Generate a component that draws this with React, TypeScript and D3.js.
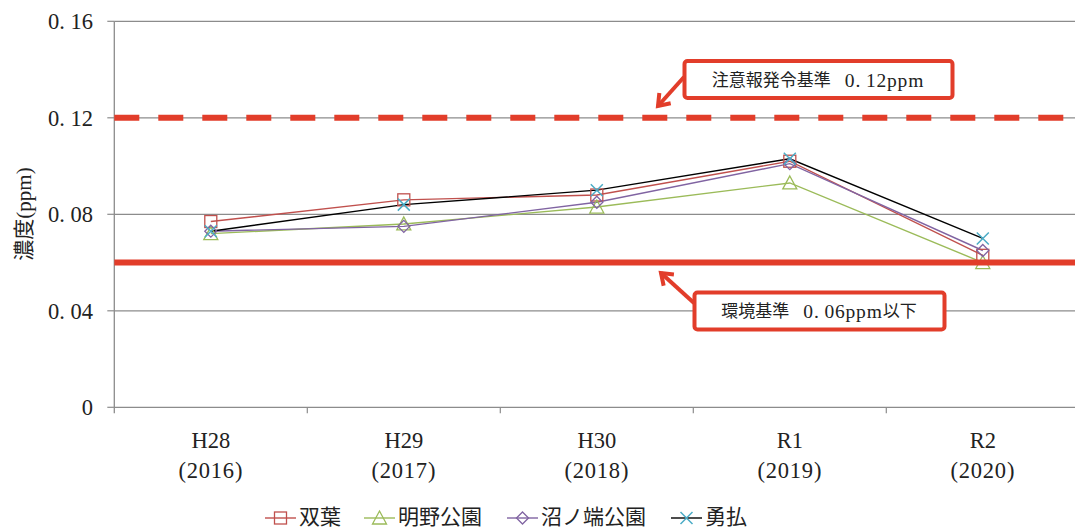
import React from "react";
import * as d3 from "d3";

const categories = ["H28", "H29", "H30", "R1", "R2"];
const years = ["(2016)", "(2017)", "(2018)", "(2019)", "(2020)"];
const seriesNames = ["双葉", "明野公園", "沼ノ端公園", "勇払"];
const futaba = [0.077, 0.086, 0.088, 0.102, 0.063];
const akeno = [0.072, 0.076, 0.083, 0.093, 0.06];
const numanohata = [0.073, 0.075, 0.085, 0.101, 0.065];
const yufutsu = [0.073, 0.084, 0.09, 0.103, 0.07];
const yTicks = [0, 0.04, 0.08, 0.12, 0.16];
const alertLevel = 0.12;
const envStandard = 0.06;
const alertLabel = ["注意報発令基準", "0.12ppm", ""];
const envLabel = ["環境基準", "0.06ppm", "以下"];
const yLabel = "濃度(ppm)";

const W = 1075;
const H = 528;
const RED = "#E23D2A";
const FONT = "'Liberation Serif', 'Noto Sans CJK JP', serif";

const seriesDefs = [
  { name: seriesNames[0], values: futaba, line: "#C0504D", marker: "#C0504D", shape: "square" },
  { name: seriesNames[1], values: akeno, line: "#9BBB59", marker: "#9BBB59", shape: "triangle" },
  { name: seriesNames[2], values: numanohata, line: "#8064A2", marker: "#8064A2", shape: "diamond" },
  { name: seriesNames[3], values: yufutsu, line: "#000000", marker: "#4BACC6", shape: "x" },
];

function Marker({ shape, x, y, color }: { shape: string; x: number; y: number; color: string }) {
  const s = 6;
  if (shape === "square")
    return <rect x={x - s} y={y - s} width={2 * s} height={2 * s} fill="none" stroke={color} strokeWidth={1.3} />;
  if (shape === "triangle")
    return (
      <path
        d={`M${x},${y - s - 1}L${x + s + 1},${y + s}L${x - s - 1},${y + s}Z`}
        fill="none"
        stroke={color}
        strokeWidth={1.3}
      />
    );
  if (shape === "diamond")
    return (
      <path d={`M${x},${y - s}L${x + s},${y}L${x},${y + s}L${x - s},${y}Z`} fill="none" stroke={color} strokeWidth={1.3} />
    );
  return (
    <path
      d={`M${x - s},${y - s}L${x + s},${y + s}M${x + s},${y - s}L${x - s},${y + s}`}
      fill="none"
      stroke={color}
      strokeWidth={1.5}
    />
  );
}

function Arrow({ x1, y1, x2, y2 }: { x1: number; y1: number; x2: number; y2: number }) {
  const ang = Math.atan2(y2 - y1, x2 - x1);
  const L = 13;
  const a = Math.PI / 5;
  const p1 = [x2 - L * Math.cos(ang - a), y2 - L * Math.sin(ang - a)];
  const p2 = [x2 - L * Math.cos(ang + a), y2 - L * Math.sin(ang + a)];
  return (
    <g stroke={RED} strokeWidth={4} fill="none" strokeLinecap="butt" strokeLinejoin="miter">
      <line x1={x1} y1={y1} x2={x2} y2={y2} />
      <path d={`M${p1[0]},${p1[1]}L${x2},${y2}L${p2[0]},${p2[1]}`} />
    </g>
  );
}

function NumText({ s, size }: { s: string; size: number }) {
  const i = s.indexOf(".");
  if (i < 0) return <tspan>{s}</tspan>;
  return (
    <>
      <tspan>{s.slice(0, i + 1)}</tspan>
      <tspan dx={size * 0.25}>{s.slice(i + 1)}</tspan>
    </>
  );
}

export default function App() {
  const left = 114.3;
  const right = 1079.3;
  const x = d3.scaleBand<string>().domain(categories).range([left, right]).padding(0);
  const y = d3.scaleLinear().domain([0, 0.16]).range([407.3, 21.3]);
  const cx = (c: string) => (x(c) as number) + x.bandwidth() / 2;
  const lineGen = d3
    .line<number>()
    .x((_, i) => cx(categories[i]))
    .y((v) => y(v));

  const legendItems = [
    { lx: 265, tx: 299 },
    { lx: 364, tx: 398 },
    { lx: 507, tx: 541 },
    { lx: 671, tx: 705 },
  ];

  const label = (parts: string[], x0: number, y0: number) => (
    <text x={x0} y={y0} textAnchor="middle" dominantBaseline="central" fontSize={17} fill="#222">
      <tspan>{parts[0]}</tspan>
      <tspan dx={14} fontSize={19.5} letterSpacing={0.8}>
        <NumText s={parts[1]} size={19.5} />
      </tspan>
      {parts[2] ? <tspan>{parts[2]}</tspan> : null}
    </text>
  );

  return (
    <svg
      width={W}
      height={H}
      style={{ position: "absolute", left: 0, top: 0, background: "#fff" }}
      fontFamily={FONT}
    >
      <rect x={0} y={0} width={W} height={H} fill="#fff" />
      {yTicks.slice(1).map((t) => (
        <line key={t} x1={left} x2={right} y1={y(t)} y2={y(t)} stroke="#8c8c8c" strokeWidth={1.2} />
      ))}
      <line x1={left} x2={left} y1={y(0.16)} y2={y(0) + 6} stroke="#8c8c8c" strokeWidth={1.3} />
      <line x1={left} x2={right} y1={y(0)} y2={y(0)} stroke="#8c8c8c" strokeWidth={1.3} />
      {yTicks.map((t) => (
        <line key={"yt" + t} x1={left - 7} x2={left} y1={y(t)} y2={y(t)} stroke="#8c8c8c" strokeWidth={1.2} />
      ))}
      {categories.map((c) => (
        <line
          key={"xt" + c}
          x1={(x(c) as number) + x.bandwidth()}
          x2={(x(c) as number) + x.bandwidth()}
          y1={y(0)}
          y2={y(0) + 6}
          stroke="#8c8c8c"
          strokeWidth={1.2}
        />
      ))}
      {yTicks.map((t) => (
        <text key={"yl" + t} x={93} y={y(t)} textAnchor="end" dominantBaseline="central" fontSize={22.5} fill="#222">
          <NumText s={t === 0 ? "0" : d3.format(".2f")(t)} size={22.5} />
        </text>
      ))}
      {categories.map((c, i) => (
        <g key={"xl" + c}>
          <text x={cx(c)} y={440} textAnchor="middle" dominantBaseline="central" fontSize={22.5} fill="#222">
            {c}
          </text>
          <text
            x={cx(c)}
            y={470}
            textAnchor="middle"
            dominantBaseline="central"
            fontSize={22.5}
            fill="#222"
            letterSpacing={0.8}
          >
            {years[i]}
          </text>
        </g>
      ))}
      <text
        transform={`translate(24,214) rotate(-90)`}
        textAnchor="middle"
        dominantBaseline="central"
        fontSize={21}
        fill="#222"
      >
        {yLabel}
      </text>
      {seriesDefs.map((s) => (
        <path key={"l" + s.name} d={lineGen(s.values) || ""} fill="none" stroke={s.line} strokeWidth={1.4} />
      ))}
      {seriesDefs.map((s) => (
        <g key={"m" + s.name}>
          {s.values.map((v, i) => (
            <Marker key={i} shape={s.shape} x={cx(categories[i])} y={y(v)} color={s.marker} />
          ))}
        </g>
      ))}
      <line
        x1={left}
        x2={right}
        y1={y(alertLevel)}
        y2={y(alertLevel)}
        stroke={RED}
        strokeWidth={6}
        strokeDasharray="25 19"
      />
      <line x1={left} x2={right} y1={y(envStandard)} y2={y(envStandard)} stroke={RED} strokeWidth={6} />
      <rect x={684.5} y={61} width={268} height={37} rx={3} fill="#fff" stroke={RED} strokeWidth={4} />
      {label(alertLabel, 818, 80)}
      <Arrow x1={684} y1={77} x2={658} y2={106} />
      <rect x={694.5} y={292.5} width={250} height={37} rx={3} fill="#fff" stroke={RED} strokeWidth={4} />
      {label(envLabel, 819, 311)}
      <Arrow x1={694} y1={303} x2={661} y2={273} />
      {seriesDefs.map((s, i) => (
        <g key={"lg" + s.name}>
          <line
            x1={legendItems[i].lx}
            x2={legendItems[i].lx + 31}
            y1={518}
            y2={518}
            stroke={s.line}
            strokeWidth={1.4}
          />
          <Marker shape={s.shape} x={legendItems[i].lx + 15.5} y={518} color={s.marker} />
          <text x={legendItems[i].tx} y={517} dominantBaseline="central" fontSize={21} fill="#222">
            {s.name}
          </text>
        </g>
      ))}
    </svg>
  );
}
